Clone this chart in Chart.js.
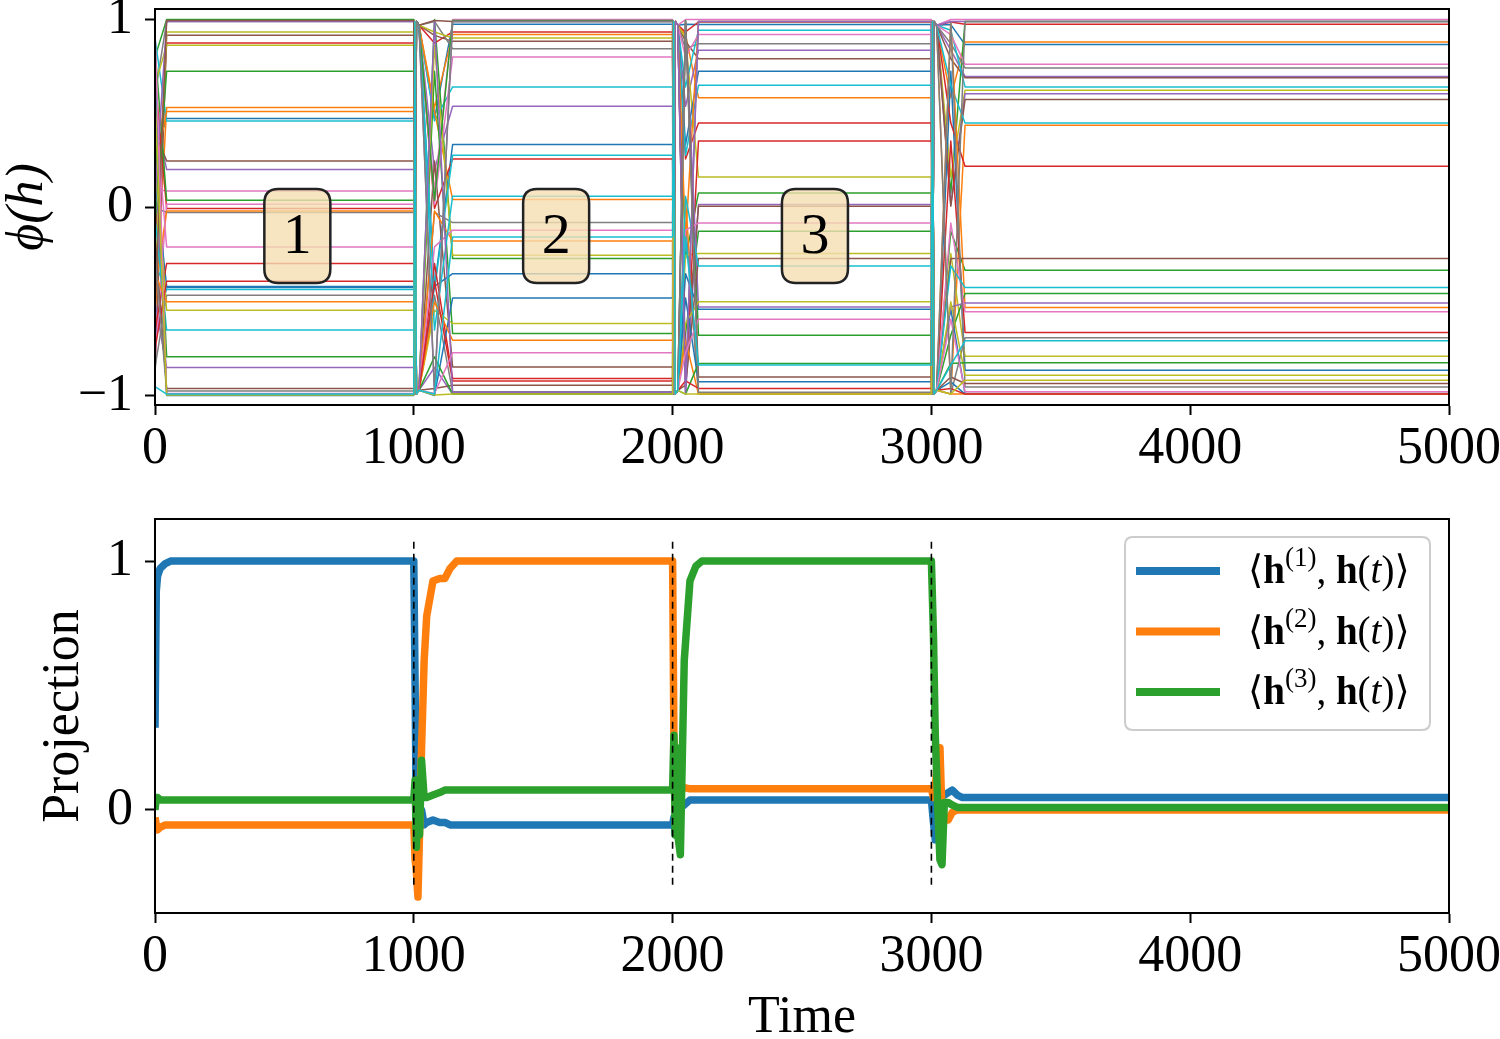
<!DOCTYPE html>
<html><head><meta charset="utf-8">
<script src="https://cdn.jsdelivr.net/npm/chart.js@4.4.1/dist/chart.umd.min.js"></script>
<style>
html,body{margin:0;padding:0;background:#fff;width:1500px;height:1039px;overflow:hidden}
canvas{position:absolute;left:0;display:block}
</style></head><body>
<canvas id="c1" width="1500" height="480" style="top:0"></canvas>
<canvas id="c2" width="1500" height="559" style="top:480px"></canvas>
<script>
// ---------- data ----------
const timeTicks = [0, 1000, 2000, 3000, 4000, 5000];
const phiTicks = [-1, 0, 1];
const projTicks = [0, 1];

// initial neuron states at t = 0
const h0 = [0.3,-0.6,0.8,-0.2,0.5,-0.9,0.1,0.6,-0.4,0.9,
            -0.7,0.2,-0.1,0.7,-0.5,0.4,-0.8,0.0,0.65,-0.3,
            0.15,-0.45,0.85,-0.65,0.35,-0.15,0.55,-0.85,0.25,-0.05,
            0.75,-0.35,0.45,-0.75,0.05,-0.55,0.95,-0.25,0.6,-0.95];
// settled levels, epoch 1 (0-1000)
const lvl1 = [0.474,0.532,1.0,0.875,0.203,0.916,0.089,0.99,0.934,0.461,
              -0.424,0.512,0.725,-0.004,-0.849,0.249,0.019,-0.025,0.863,-0.434,
              -0.418,-0.017,0.04,-0.296,-0.99,-0.96,-0.208,-0.465,-0.544,-0.65,
              -0.998,-0.5,-0.792,-0.39,0.99,0.995,-0.987,-0.973,-0.995,-0.99];
// epoch 2 (1000-2000)
const lvl2 = [0.975,0.92,-0.27,0.934,0.539,0.884,1.0,0.845,0.902,0.642,
              0.336,0.044,-0.668,0.259,-0.99,-0.846,0.801,-0.079,-0.252,0.279,
              -0.35,-0.176,0.995,-0.907,0.99,-0.943,-0.119,-0.978,-0.615,0.061,
              -0.479,-0.704,-0.99,-0.92,-0.98,0.99,-0.771,0.99,-0.99,-0.155];
// epoch 3 (2000-3000)
const lvl3 = [0.973,0.585,0.079,0.987,0.837,0.792,1.0,0.872,0.164,0.943,
              0.725,-0.987,-0.125,0.45,0.017,0.008,0.92,-0.99,-0.243,0.651,
              -0.539,0.99,-0.677,0.355,-0.527,-0.27,-0.081,0.99,-0.5,-0.309,
              -0.925,-0.99,-0.827,-0.96,0.99,-0.899,-0.592,-0.98,-0.99,-0.836];
// epoch 4 (3000-5000)
const lvl4 = [0.867,0.881,0.99,0.975,0.698,0.691,1.0,0.743,0.624,0.642,
              -0.863,0.438,-0.332,0.22,0.606,0.575,0.762,-0.691,-0.789,0.45,
              -0.987,-0.53,-0.456,-0.663,-0.506,-0.27,-0.553,-0.952,-0.89,-0.424,
              -0.99,-0.99,-0.824,-0.99,0.99,-0.934,-0.978,0.99,-0.916,-0.707];
const switchT = [1000, 2000, 3000];
const midT = [1080, 2050, 3075];
const settleT = [1150, 2100, 3130];
const firstSettleT = 45;

// projections
const projT = [0,5,10,20,40,60,
  1000,1005,1010,1016,1022,1030,1040,1050,1074,1100,1120,1140,1166,
  2000,2005,2010,2015,2020,2030,2045,2067,2090,2113,
  3000,3008,3015,3025,3033,3041,3050,3065,3080,3100,3120,5000];
const proj1 = [0.33,0.88,0.94,0.97,0.99,1.0,
  1.0,0.5,-0.1,-0.19,-0.04,0.0,-0.06,-0.05,-0.04,-0.05,-0.05,-0.06,-0.06,
  -0.06,-0.03,-0.1,0.02,-0.02,0.01,0.02,0.04,0.04,0.04,
  0.04,-0.05,-0.12,0.03,0.06,0.06,0.06,0.07,0.08,0.06,0.05,0.05];
const proj2 = [-0.03,-0.06,-0.08,-0.07,-0.06,-0.06,
  -0.06,-0.2,-0.25,-0.35,-0.1,0.25,0.6,0.78,0.92,0.93,0.93,0.97,1.0,
  1.0,0.3,0.1,-0.05,0.05,0.1,0.09,0.085,0.085,0.085,
  0.085,0.05,0.1,0.2,0.25,-0.02,-0.04,-0.04,-0.01,0.0,0.0,0.0];
const proj3 = [0.0,0.05,0.05,0.04,0.04,0.04,
  0.04,0.12,-0.15,0.1,-0.1,0.2,0.05,0.05,0.06,0.07,0.08,0.08,0.08,
  0.08,0.3,-0.1,0.25,-0.1,-0.18,0.6,0.92,0.98,1.0,
  1.0,0.7,0.3,0.0,-0.2,-0.22,0.03,0.03,0.02,0.01,0.01,0.01];
const projSup = ['1', '2', '3'];
const vlineT = [1000, 2000, 3000];
const vlineY = [-0.3, 1.09];

const boxText = ['1', '2', '3'];
const boxX = [550, 1550, 2550];
const boxY = -0.15;

// ---------- styles ----------
const tab10 = ['#1f77b4','#ff7f0e','#2ca02c','#d62728','#9467bd','#8c564b','#e377c2','#7f7f7f','#bcbd22','#17becf'];
const SERIF = "'Liberation Serif','DejaVu Serif',serif";
const fmt = v => v < 0 ? '\u2212' + Math.abs(v) : String(v);

const framePlugin = { id: 'frame', afterDatasetsDraw(chart) {
  const { ctx, chartArea: a } = chart;
  ctx.save(); ctx.strokeStyle = '#000'; ctx.lineWidth = 2;
  ctx.strokeRect(a.left, a.top, a.right - a.left, a.bottom - a.top);
  ctx.restore();
}};

function rrect(ctx, x, y, w, h, r) {
  ctx.beginPath();
  ctx.moveTo(x + r, y); ctx.lineTo(x + w - r, y); ctx.quadraticCurveTo(x + w, y, x + w, y + r);
  ctx.lineTo(x + w, y + h - r); ctx.quadraticCurveTo(x + w, y + h, x + w - r, y + h);
  ctx.lineTo(x + r, y + h); ctx.quadraticCurveTo(x, y + h, x, y + h - r);
  ctx.lineTo(x, y + r); ctx.quadraticCurveTo(x, y, x + r, y); ctx.closePath();
}

const boxPlugin = { id: 'boxes', afterDatasetsDraw(chart) {
  const { ctx } = chart; const xs = chart.scales.x, ys = chart.scales.y;
  ctx.save();
  boxText.forEach((t, i) => {
    const cx = xs.getPixelForValue(boxX[i]), cy = ys.getPixelForValue(boxY);
    rrect(ctx, cx - 33, cy - 47, 66, 94, 14);
    ctx.fillStyle = 'rgba(245,222,179,0.8)'; ctx.fill();
    ctx.lineWidth = 2.5; ctx.strokeStyle = '#222'; ctx.stroke();
    ctx.fillStyle = '#000'; ctx.font = `58px ${SERIF}`;
    ctx.textAlign = 'center'; ctx.textBaseline = 'middle';
    ctx.fillText(t, cx, cy + 2);
  });
  ctx.restore();
}};

function drawMath(ctx, x, y, sup, size) {
  const parts = [['\u27E8','n'],['h','b'],['(' + sup + ')','s'],[', ','n'],['h','b'],['(','n'],['t','i'],[')\u27E9','n']];
  for (const [t, st] of parts) {
    let f, dy = 0;
    if (st === 'n') f = `${size}px ${SERIF}`;
    else if (st === 'b') f = `bold ${size}px ${SERIF}`;
    else if (st === 'i') f = `italic ${size}px ${SERIF}`;
    else { f = `${Math.round(size * 0.7)}px ${SERIF}`; dy = -size * 0.36; }
    ctx.font = f; ctx.fillText(t, x, y + dy); x += ctx.measureText(t).width;
  }
}

const legendPlugin = { id: 'mathLegend', afterDatasetsDraw(chart) {
  const { ctx, chartArea: a } = chart;
  const bx = a.right - 324, by = a.top + 18, bw = 305, bh = 193;
  ctx.save();
  rrect(ctx, bx, by, bw, bh, 8);
  ctx.fillStyle = 'rgba(255,255,255,0.8)'; ctx.fill();
  ctx.strokeStyle = '#cccccc'; ctx.lineWidth = 2; ctx.stroke();
  const cols = [tab10[0], tab10[1], tab10[2]];
  projSup.forEach((s, i) => {
    const y = by + 34 + i * 60.5;
    ctx.strokeStyle = cols[i]; ctx.lineWidth = 8; ctx.lineCap = 'butt';
    ctx.beginPath(); ctx.moveTo(bx + 11, y); ctx.lineTo(bx + 95, y); ctx.stroke();
    ctx.fillStyle = '#000'; ctx.textBaseline = 'middle'; ctx.textAlign = 'left';
    drawMath(ctx, bx + 123, y + 2, s, 39);
  });
  ctx.restore();
}};

// ---------- top chart ----------
const levels = [lvl1, lvl2, lvl3, lvl4];
function trace(i) {
  const pts = [{ x: 0, y: h0[i] }, { x: firstSettleT, y: lvl1[i] }];
  for (let s = 0; s < 3; s++) {
    const T = switchT[s], old = levels[s][i], nw = levels[s + 1][i], sg = nw >= 0 ? 1 : -1;
    pts.push({ x: T, y: old }, { x: T + 4, y: -0.99 * sg }, { x: T + 10, y: 0.99 * sg },
             { x: T + 20, y: 0.97 * sg }, { x: midT[s], y: old }, { x: settleT[s], y: nw });
  }
  pts.push({ x: 5000, y: lvl4[i] });
  return pts;
}
const topSets = h0.map((_, i) => ({
  data: trace(i), borderColor: tab10[i % 10], borderWidth: 1.5,
  pointRadius: 0, tension: 0, fill: false, order: 100 - i
}));

function xAxis(h, showTitle) {
  return {
    type: 'linear', min: 0, max: 5000,
    afterBuildTicks: s => { s.ticks = timeTicks.map(v => ({ value: v })); },
    afterFit: s => { s.height = h; s.paddingLeft = 0; s.paddingRight = 0; },
    ticks: { font: { family: SERIF, size: 52 }, color: '#000', padding: 3, maxRotation: 0, autoSkip: false, callback: v => String(v) },
    grid: { drawOnChartArea: false, drawTicks: true, tickLength: 10, tickWidth: 2, color: '#000' },
    border: { display: true, color: '#000', width: 2 },
    title: showTitle ? { display: true, text: 'Time', color: '#000', font: { family: SERIF, size: 52, lineHeight: 0.8 }, padding: 0 } : { display: false }
  };
}
function yAxis(min, max, ticks, title, tpad, italic) {
  return {
    type: 'linear', min, max,
    afterBuildTicks: s => { s.ticks = ticks.map(v => ({ value: v })); },
    afterFit: s => { s.width = 155; s.paddingTop = 0; s.paddingBottom = 0; },
    ticks: { font: { family: SERIF, size: 52 }, color: '#000', padding: 12, callback: fmt },
    grid: { drawOnChartArea: false, drawTicks: true, tickLength: 10, tickWidth: 2, color: '#000' },
    border: { display: true, color: '#000', width: 2 },
    title: { display: true, text: title, color: '#000', font: { family: SERIF, size: 52, lineHeight: 1, style: italic ? 'italic' : 'normal' }, padding: { top: tpad, bottom: 0 } }
  };
}
const common = {
  responsive: false, animation: false, devicePixelRatio: 1,
  plugins: { legend: { display: false }, tooltip: { enabled: false } },
  elements: { line: { borderCapStyle: 'butt', borderJoinStyle: 'round' } }
};

new Chart(document.getElementById('c1'), {
  type: 'line',
  data: { datasets: topSets },
  options: Object.assign({}, common, {
    layout: { padding: { left: 0, right: 51, top: 9, bottom: 0 } },
    scales: { x: xAxis(75, false), y: yAxis(-1.048, 1.056, phiTicks, '\u03D5(h)', 2, true) }
  }),
  plugins: [framePlugin, boxPlugin]
});

// ---------- bottom chart ----------
const pts = arr => projT.map((t, i) => ({ x: t, y: arr[i] }));
const projSets = [
  { label: '\u27E8h(1), h(t)\u27E9', data: pts(proj1), borderColor: tab10[0], borderWidth: 7.5, pointRadius: 0, order: 3 },
  { label: '\u27E8h(2), h(t)\u27E9', data: pts(proj2), borderColor: tab10[1], borderWidth: 7.5, pointRadius: 0, order: 2 },
  { label: '\u27E8h(3), h(t)\u27E9', data: pts(proj3), borderColor: tab10[2], borderWidth: 7.5, pointRadius: 0, order: 1 }
];
vlineT.forEach(t => projSets.push({
  data: vlineY.map(y => ({ x: t, y })), borderColor: '#000', borderWidth: 1.6,
  borderDash: [7, 5], pointRadius: 0, order: 0
}));

new Chart(document.getElementById('c2'), {
  type: 'line',
  data: { datasets: projSets },
  options: Object.assign({}, common, {
    layout: { padding: { left: 0, right: 51, top: 39, bottom: 0 } },
    scales: { x: xAxis(126, true), y: yAxis(-0.414, 1.169, projTicks, 'Projection', 38, false) }
  }),
  plugins: [framePlugin, legendPlugin]
});
</script>
</body></html>
